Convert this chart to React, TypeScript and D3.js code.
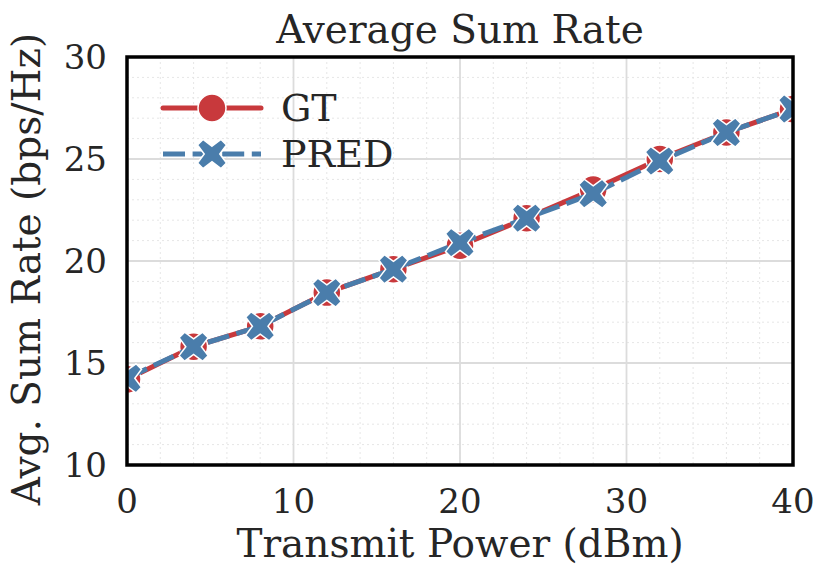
import React from "react";
import * as d3 from "d3";

const power = [0, 4, 8, 12, 16, 20, 24, 28, 32, 36, 40];
const gtRate = [14.2, 15.8, 16.8, 18.45, 19.6, 20.75, 22.1, 23.5, 25.0, 26.3, 27.45];
const predRate = [14.25, 15.8, 16.8, 18.45, 19.6, 20.9, 22.1, 23.3, 24.9, 26.3, 27.45];
const xTicks = [0, 10, 20, 30, 40];
const yTicks = [10, 15, 20, 25, 30];
const xMinor = d3.range(0, 41, 2);
const yMinor = d3.range(10, 31, 1);

const W = 830, H = 583;
const L = 127, R = 793, T = 57, B = 465;
const RED = "#c8393c";
const BLUE = "#4a7dab";
const FONT = "'DejaVu Serif', serif";
const DASH = "22,7.6";

function xMarker(cx: number, cy: number, s: number) {
  const a = s, b = s * 0.38;
  const pts = [
    [0, -b * 1.414], [a - b, -a], [a, -a + b], [b * 1.414, 0], [a, a - b], [a - b, a],
    [0, b * 1.414], [-a + b, a], [-a, a - b], [-b * 1.414, 0], [-a, -a + b], [-a + b, -a],
  ];
  return "M" + pts.map(p => `${cx + p[0]},${cy + p[1]}`).join("L") + "Z";
}

export default function App() {
  const x = d3.scaleLinear().domain([0, 40]).range([L, R]);
  const y = d3.scaleLinear().domain([10, 30]).range([B, T]);
  const line = d3.line<number>().x((_, i) => x(power[i])).y(d => y(d));
  return (
    <svg width={W} height={H} style={{ display: "block", position: "absolute", left: 0, top: 0 }} fontFamily={FONT}>
      <rect width={W} height={H} fill="#fff" />
      <defs>
        <clipPath id="clip"><rect x={L} y={T} width={R - L} height={B - T} /></clipPath>
      </defs>
      {xMinor.map(v => <line key={"xm" + v} x1={x(v)} x2={x(v)} y1={T} y2={B} stroke="#e6e6e6" strokeWidth={1} strokeDasharray="2,3" />)}
      {yMinor.map(v => <line key={"ym" + v} x1={L} x2={R} y1={y(v)} y2={y(v)} stroke="#e6e6e6" strokeWidth={1} strokeDasharray="2,3" />)}
      {xTicks.map(v => <line key={"xg" + v} x1={x(v)} x2={x(v)} y1={T} y2={B} stroke="#dcdcdc" strokeWidth={1.8} />)}
      {yTicks.map(v => <line key={"yg" + v} x1={L} x2={R} y1={y(v)} y2={y(v)} stroke="#dcdcdc" strokeWidth={1.8} />)}
      <g clipPath="url(#clip)">
        <path d={line(gtRate) || ""} fill="none" stroke={RED} strokeWidth={5} strokeLinecap="round" />
        {gtRate.map((d, i) => <circle key={"g" + i} cx={x(power[i])} cy={y(d)} r={14} fill={RED} stroke="#fff" strokeWidth={1.5} />)}
        <path d={line(predRate) || ""} fill="none" stroke={BLUE} strokeWidth={5} strokeDasharray={DASH} />
        {predRate.map((d, i) => <path key={"p" + i} d={xMarker(x(power[i]), y(d), 14.5)} fill={BLUE} stroke="#fff" strokeWidth={1.5} strokeLinejoin="miter" />)}
      </g>
      <rect x={L} y={T} width={R - L} height={B - T} fill="none" stroke="#000" strokeWidth={3.5} />
      {xTicks.map(v => <text key={"xt" + v} x={x(v)} y={513} textAnchor="middle" fontSize={34} fill="#262626">{v}</text>)}
      {yTicks.map(v => <text key={"yt" + v} x={107} y={y(v) + 12} textAnchor="end" fontSize={34} fill="#262626">{v}</text>)}
      <text x={(L + R) / 2} y={43} textAnchor="middle" fontSize={39} fill="#262626">Average Sum Rate</text>
      <text x={(L + R) / 2} y={557} textAnchor="middle" fontSize={39} fill="#262626">Transmit Power (dBm)</text>
      <text transform={`translate(40,269) rotate(-90)`} textAnchor="middle" fontSize={39} fill="#262626">Avg. Sum Rate (bps/Hz)</text>
      <g>
        <line x1={163} x2={261} y1={108} y2={108} stroke={RED} strokeWidth={5} strokeLinecap="round" />
        <circle cx={212} cy={108} r={14} fill={RED} stroke="#fff" strokeWidth={1.5} />
        <text x={281} y={121} fontSize={38} fill="#262626">GT</text>
        <line x1={163} x2={261} y1={154} y2={154} stroke={BLUE} strokeWidth={5} strokeDasharray={DASH} />
        <path d={xMarker(212, 154, 14.5)} fill={BLUE} stroke="#fff" strokeWidth={1.5} />
        <text x={281} y={167} fontSize={38} fill="#262626">PRED</text>
      </g>
    </svg>
  );
}
